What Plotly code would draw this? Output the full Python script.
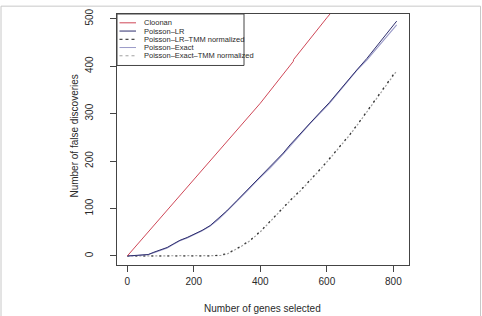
import plotly.graph_objects as go

# ---------------- data ----------------
genes_cloonan = [0, 100, 200, 274, 300, 389, 400, 499, 500, 600, 700, 810]
fd_cloonan = [0, 80, 161, 219, 241, 312, 322, 410, 414, 502, 590, 680]

genes_poisson = [0, 15, 30, 45, 63, 80, 98, 120, 140, 158, 180, 200, 225, 249, 275,
                 299, 330, 359, 390, 429, 469, 489, 520, 549, 580, 607, 635, 660,
                 690, 720, 750, 780, 810]
fd_poisson_lr = [0, 1, 2, 2, 3, 8, 12, 18, 26, 33, 39, 45, 54, 64, 80,
                 95, 117, 138, 160, 187, 217, 234, 258, 281, 303, 323, 347, 368,
                 392, 416, 442, 468, 495]
fd_poisson_exact = [0, 0, 1, 2, 3, 7, 11, 17, 25, 32, 38, 44, 53, 63, 78,
                    94, 115, 136, 159, 185, 215, 232, 256, 279, 301, 321, 345, 367,
                    391, 413, 438, 462, 487]

genes_tmm = [0, 50, 100, 150, 200, 250, 280, 300, 319, 340, 369, 400, 429, 460,
             489, 520, 549, 580, 610, 640, 670, 700, 730, 770, 810]
fd_lr_tmm = [0, 0, 0, 0, 0, 0, 2, 5, 12, 20, 33, 52, 73, 96,
             117, 138, 159, 183, 207, 232, 257, 285, 314, 352, 392]
fd_exact_tmm = [0, 0, 0, 0, 0, 0, 1, 4, 11, 19, 32, 51, 72, 95,
                116, 137, 158, 182, 206, 231, 256, 284, 313, 351, 390]

x_ticks = [0, 200, 400, 600, 800]
y_ticks = [0, 100, 200, 300, 400, 500]

legend_labels = ["Cloonan", "Poisson\u2013LR", "Poisson\u2013LR\u2013TMM normalized",
                 "Poisson\u2013Exact", "Poisson\u2013Exact\u2013TMM normalized"]

# ---------------- styles ----------------
RED = "#cf4757"
NAVY = "#2e2e6e"
LIGHT = "#9a9ac8"
BLACK = "#1a1a1a"
GRAY = "#a0a0a0"
AXIS = "#444444"
TXT = "#2a2a2a"
FONT = "Liberation Sans, Arial, Helvetica, sans-serif"

W, H = 482, 316
L, R, T, B = 117, 73, 9, 51
PW, PH = W - L - R, H - T - B


def xp(px):
    return (px - L) / PW


def yp(py):
    return (H - B - py) / PH


fig = go.Figure()
fig.add_trace(go.Scatter(x=genes_tmm, y=fd_exact_tmm, mode="lines",
                         line=dict(color=GRAY, width=1.2, dash="2px,2px")))
fig.add_trace(go.Scatter(x=genes_tmm, y=fd_lr_tmm, mode="lines",
                         line=dict(color="#333333", width=1.2, dash="2px,6px")))
fig.add_trace(go.Scatter(x=genes_poisson, y=fd_poisson_exact, mode="lines",
                         line=dict(color=LIGHT, width=1.1)))
fig.add_trace(go.Scatter(x=genes_poisson, y=fd_poisson_lr, mode="lines",
                         line=dict(color=NAVY, width=1)))
fig.add_trace(go.Scatter(x=genes_cloonan, y=fd_cloonan, mode="lines",
                         line=dict(color=RED, width=1)))

axis_common = dict(showgrid=False, zeroline=False, showline=True, mirror=True,
                   linecolor=AXIS, linewidth=1, ticks="outside", ticklen=6,
                   tickcolor=AXIS, tickwidth=1,
                   tickfont=dict(family=FONT, size=10, color=TXT))

fig.update_layout(
    width=W, height=H, margin=dict(l=L, r=R, t=T, b=B),
    paper_bgcolor="white", plot_bgcolor="white", showlegend=False,
    xaxis=dict(range=[-31, 847], tickvals=x_ticks, ticklabelstandoff=1, **axis_common),
    yaxis=dict(range=[-19, 510], tickvals=y_ticks, tickangle=-90,
               ticklabelstandoff=13, **axis_common),
)

# axis titles
fig.add_annotation(text="Number of genes selected", x=xp(262), y=yp(309),
                   xref="paper", yref="paper", showarrow=False,
                   xanchor="center", yanchor="middle",
                   font=dict(family=FONT, size=10, color=TXT))
fig.add_annotation(text="Number of false discoveries", x=xp(75), y=yp(134),
                   xref="paper", yref="paper", showarrow=False, textangle=-90,
                   xanchor="center", yanchor="middle",
                   font=dict(family=FONT, size=10, color=TXT))

# legend box
fig.add_shape(type="rect", xref="paper", yref="paper",
              x0=xp(117), x1=xp(244), y0=yp(61.5), y1=yp(9),
              line=dict(color=AXIS, width=1), fillcolor="white", layer="above")
leg_styles = [(RED, None), (NAVY, None), (BLACK, "3px,3px"), (LIGHT, None), (GRAY, "3px,3px")]
row_y = [18, 26.4, 34.8, 43.2, 51.6]
for (col, dash), lab, ry in zip(leg_styles, legend_labels, row_y):
    line = dict(color=col, width=1)
    if dash:
        line["dash"] = dash
    fig.add_shape(type="line", xref="paper", yref="paper",
                  x0=xp(119.5), x1=xp(136), y0=yp(ry), y1=yp(ry), line=line, layer="above")
    fig.add_annotation(text=lab, x=xp(141.5), y=yp(ry), xref="paper", yref="paper",
                       xanchor="left", yanchor="middle", showarrow=False,
                       font=dict(family=FONT, size=7.5, color=TXT))

# outer figure frame
fig.add_shape(type="rect", xref="paper", yref="paper",
              x0=xp(1), x1=xp(480.5), y0=yp(320), y1=yp(1),
              line=dict(color="#c8c8c8", width=1))

fig.write_html("out.html")
